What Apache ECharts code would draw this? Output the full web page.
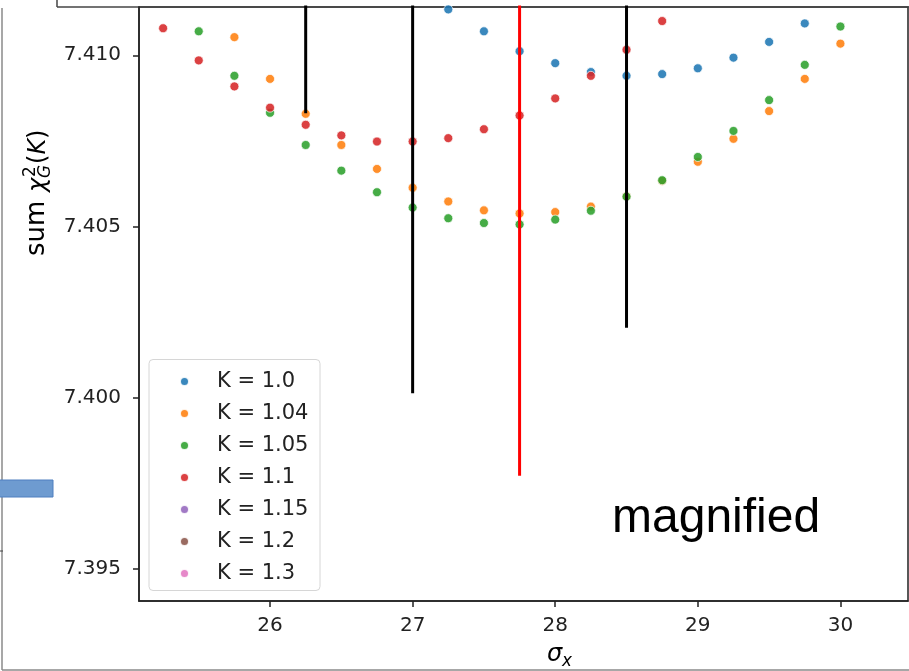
<!DOCTYPE html>
<html><head><meta charset="utf-8">
<script src="https://cdn.jsdelivr.net/npm/echarts@6/dist/echarts.min.js"></script>
<style>html,body{margin:0;padding:0;background:#fff;}#c{width:909px;height:671px;}</style>
</head><body><div id="c"></div>
<script>
// ---- data ----
const sigmaX = [25.25,25.5,25.75,26,26.25,26.5,26.75,27,27.25,27.5,27.75,28,28.25,28.5,28.75,29,29.25,29.5,29.75,30];
const seriesNames = ['K = 1.0','K = 1.04','K = 1.05','K = 1.1','K = 1.15','K = 1.2','K = 1.3'];
const valsK100 = [null,null,null,null,null,null,null,null,7.41134,7.41070,7.41012,7.40977,7.40951,7.40940,7.40945,7.40962,7.40993,7.41039,7.41093,null];
const valsK104 = [null,null,7.41053,7.40931,7.40829,7.40738,7.40668,7.40613,7.40573,7.40547,7.40538,7.40542,7.40558,7.40588,7.40633,7.40689,7.40756,7.40837,7.40931,7.41034];
const valsK105 = [null,7.41070,7.40940,7.40832,7.40738,7.40663,7.40600,7.40555,7.40524,7.40510,7.40506,7.40520,7.40546,7.40587,7.40635,7.40703,7.40779,7.40869,7.40972,7.41084];
const valsK110 = [7.41079,7.40985,7.40909,7.40847,7.40797,7.40766,7.40748,7.40748,7.40758,7.40784,7.40824,7.40874,7.40940,7.41016,7.41100,null,null,null,null,null];
const valsK115 = [];
const valsK120 = [];
const valsK130 = [];
const markerX = [26.25, 27, 27.75, 28.5];
const markerTop = [7.4125, 7.4125, 7.4125, 7.4125];
const markerBottom = [7.40831, 7.40013, 7.39772, 7.40204];
const xTicks = [26, 27, 28, 29, 30];
const yTicks = [7.395, 7.400, 7.405, 7.410];
const xRange = [25.081, 30.474];
const yRange = [7.39406, 7.41141];

// ---- styles ----
const colors = ['#1f77b4','#ff7f0e','#2ca02c','#d62728','#9467bd','#8c564b','#e377c2'];
const markerColors = ['#000000','#000000','#ff0000','#000000'];
const allVals = [valsK100, valsK104, valsK105, valsK110, valsK115, valsK120, valsK130];
const FONT = '"DejaVu Sans", sans-serif';

const series = allVals.map((vals, i) => ({
  name: seriesNames[i],
  type: 'scatter',
  symbol: 'circle',
  symbolSize: 9,
  z: 2,
  itemStyle: {color: colors[i], borderColor: '#ffffff', borderWidth: 0.8, opacity: 0.88},
  data: vals.map((v, j) => [sigmaX[j], v]).filter(p => p[1] !== null && p[1] !== undefined)
}));
markerX.forEach((x, i) => {
  series.push({
    type: 'line', z: 5, silent: true, showSymbol: false, symbol: 'none',
    lineStyle: {color: markerColors[i], width: 3, cap: 'butt'},
    data: [[x, markerTop[i]], [x, markerBottom[i]]]
  });
});

// y-axis label pieces (rotated)
const F = 24, FS = 26, FM = 16.8;
const mid = s => -0.32 * s;
const txt = (x, y, text, font) => ({type: 'text', x: x, y: y, style: {text: text, font: font, fill: '#000', textAlign: 'left', textVerticalAlign: 'middle'}});
const yLabel = {
  type: 'group', x: 46, y: 256, rotation: Math.PI / 2, z: 10,
  children: [
    txt(0, mid(FS), 'sum', FS + 'px ' + FONT),
    txt(64, mid(F), 'χ', 'italic ' + F + 'px ' + FONT),
    txt(79, -9.5 + mid(FM), '2', FM + 'px ' + FONT),
    txt(78, 5 + mid(FM), 'G', 'italic ' + FM + 'px ' + FONT),
    txt(92, mid(F), '(', F + 'px ' + FONT),
    txt(101.5, mid(F), 'K', 'italic ' + F + 'px ' + FONT),
    txt(117, mid(F), ')', F + 'px ' + FONT)
  ]
};

const frameColor = '#8a8a8a';
const graphic = [
  // slide frame
  {type: 'line', shape: {x1: 57, y1: 0, x2: 57, y2: 7}, style: {stroke: '#444', lineWidth: 1.5}},
  {type: 'line', shape: {x1: 57, y1: 7, x2: 909, y2: 7}, style: {stroke: '#444', lineWidth: 1.5}},
  {type: 'line', shape: {x1: 2, y1: 8, x2: 2, y2: 670}, style: {stroke: frameColor, lineWidth: 1.5}},
  {type: 'line', shape: {x1: 2, y1: 670, x2: 909, y2: 670}, style: {stroke: frameColor, lineWidth: 1.5}},
  {type: 'rect', shape: {x: -2, y: 480, width: 55, height: 17}, style: {fill: '#6e9bd0', stroke: '#4f7fbf', lineWidth: 1}},
  {type: 'line', shape: {x1: 0, y1: 551, x2: 3, y2: 551}, style: {stroke: '#444', lineWidth: 1}},
  // legend box
  {type: 'rect', z: 3, shape: {x: 149, y: 359.5, width: 171, height: 231, r: 4}, style: {fill: 'rgba(255,255,255,0.85)', stroke: '#d6d6d6', lineWidth: 1}},
  // annotation
  {type: 'text', x: 612, y: 543, z: 10, style: {text: 'magnified', font: '48px "Liberation Sans", Arial, sans-serif', fill: '#000', textAlign: 'left', textVerticalAlign: 'bottom'}},
  // x-axis name
  {type: 'text', x: 547, y: 662 + mid(24), z: 10, style: {text: 'σ', font: 'italic 24px ' + FONT, fill: '#000', textAlign: 'left', textVerticalAlign: 'middle'}},
  {type: 'text', x: 562, y: 667 + mid(16.8), z: 10, style: {text: 'x', font: 'italic 16.8px ' + FONT, fill: '#000', textAlign: 'left', textVerticalAlign: 'middle'}},
  yLabel
];

const chart = echarts.init(document.getElementById('c'), null, {renderer: 'canvas'});
chart.setOption({
  animation: false,
  backgroundColor: '#ffffff',
  grid: {left: 139, top: 7, right: 1, bottom: 70, show: true, borderColor: '#222', borderWidth: 1.5, backgroundColor: 'transparent'},
  xAxis: {
    type: 'value', min: xRange[0], max: xRange[1],
    axisLine: {show: true, lineStyle: {color: '#222', width: 1.5}},
    axisTick: {show: true, length: 6, lineStyle: {color: '#222', width: 1.5}, customValues: xTicks},
    axisLabel: {show: true, margin: 15, fontSize: 20, fontFamily: FONT, color: '#222', customValues: xTicks, formatter: v => String(v)},
    splitLine: {show: false}
  },
  yAxis: {
    type: 'value', min: yRange[0], max: yRange[1],
    axisLine: {show: true, lineStyle: {color: '#222', width: 1.5}},
    axisTick: {show: true, length: 6, lineStyle: {color: '#222', width: 1.5}, customValues: yTicks},
    axisLabel: {show: true, margin: 18, fontSize: 20, fontFamily: FONT, color: '#222', customValues: yTicks, formatter: v => v.toFixed(3)},
    splitLine: {show: false}
  },
  legend: {
    data: seriesNames, orient: 'vertical', left: 174, top: 366, z: 6,
    icon: 'circle', itemWidth: 9, itemHeight: 9, itemGap: 11, selectedMode: false,
    textStyle: {fontSize: 21, fontFamily: FONT, color: '#222', padding: [0, 0, 0, 23]}
  },
  graphic: graphic,
  series: series
});
</script></body></html>
